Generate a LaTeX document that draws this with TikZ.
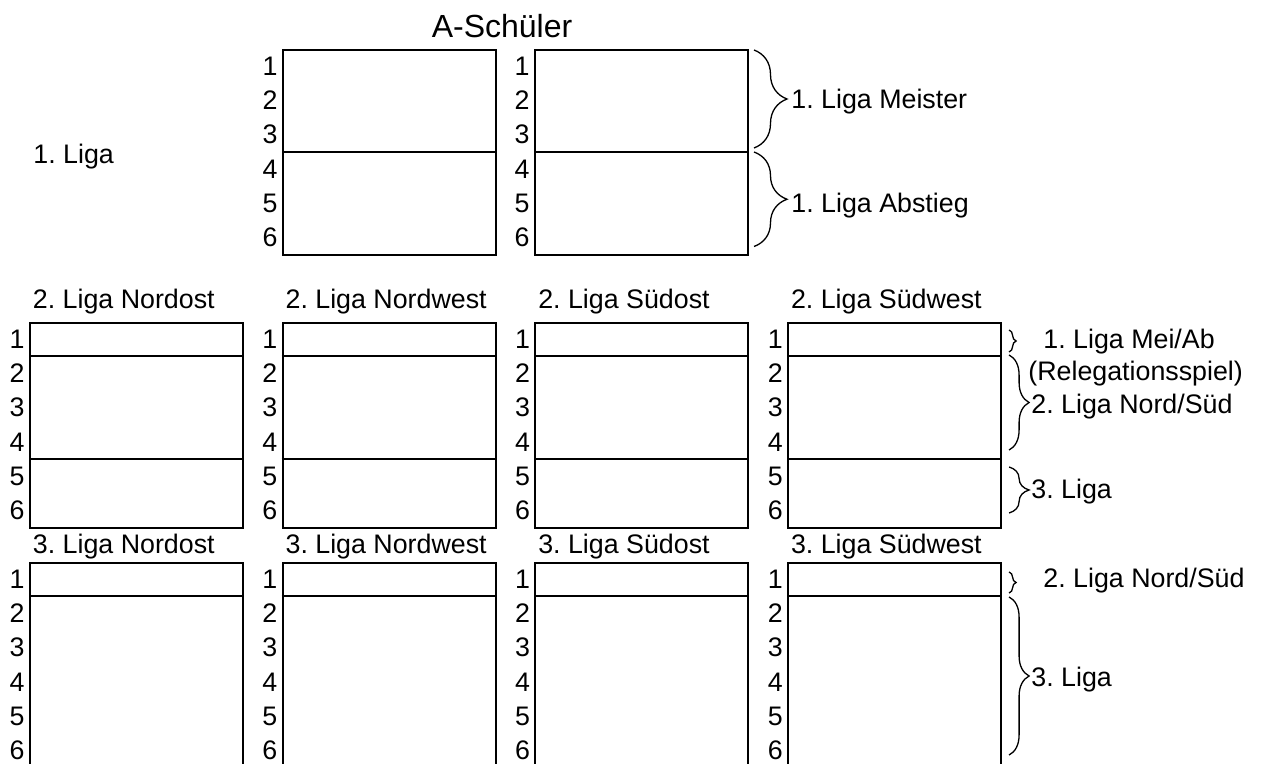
\documentclass[tikz,border=0pt]{standalone}
\usepackage{fontspec}
\setmainfont{Liberation Sans}
\frenchspacing
\usetikzlibrary{calc,decorations.pathreplacing}
\tikzset{
  liga sheet/.style={
    x=0.5pt, y=-0.5pt,
    font=\fontsize{13.4}{16}\selectfont
  },
  tabbox/.style={
    draw=black,
    line width=1pt,
    anchor=north west,
    minimum width=106.5pt,
    minimum height=102.75pt,
    inner sep=0pt
  },
  tabline/.style={draw=black, line width=1pt},
  rownum/.style={anchor=east, inner sep=0pt},
  tabtitle/.style={anchor=base west, inner sep=0pt},
  sidelabel/.style={anchor=base west, inner sep=0pt},
  headtitle/.style={anchor=base, inner sep=0pt, font=\fontsize{16}{19}\selectfont},
  ligabrace/.style={decorate, decoration={brace, amplitude=#1}, draw=black, line width=0.65pt}
}

\begin{document}
\begin{tikzpicture}[liga sheet]
\useasboundingbox (0,0) rectangle (1271,764);
\clip (0,0) rectangle (1271,764);

% 1. Liga
\node[headtitle] (head) at (502,38) {A-Schüler};
\node[sidelabel] (liga1) at (33,164) {1. Liga};
\node[tabbox] (ob1) at (282,49) {};
\node[tabbox] (ob2) at (534,49) {};
\foreach \b in {ob1,ob2} {
  \draw[tabline] ($(\b.north west)+(0,102.75)$) -- ($(\b.north east)+(0,102.75)$);
  \foreach \r in {1,...,6}
    \node[rownum] (\b-\r) at ($(\b.north west)+(-4,{(\r-0.5)*34.25})$) {\r};
}

% 2. und 3. Liga
\foreach \c/\reg [count=\i from 0] in {no/Nordost,nw/Nordwest,so/Südost,sw/Südwest} {
  \node[tabbox] (\c2) at ({29+252.7*\i},322) {};
  \node[tabtitle] (\c2-t) at ({32.5+252.7*\i},309) {2. Liga \reg};
  \draw[tabline] ($(\c2.north west)+(0,34.25)$) -- ($(\c2.north east)+(0,34.25)$);
  \draw[tabline] ($(\c2.north west)+(0,137)$) -- ($(\c2.north east)+(0,137)$);
  \foreach \r in {1,...,6}
    \node[rownum] (\c2-\r) at ($(\c2.north west)+(-4,{(\r-0.5)*34.25})$) {\r};
  \node[tabbox] (\c3) at ({29+252.7*\i},562) {};
  \node[tabtitle] (\c3-t) at ({32.5+252.7*\i},554) {3. Liga \reg};
  \draw[tabline] ($(\c3.north west)+(0,34.25)$) -- ($(\c3.north east)+(0,34.25)$);
  \foreach \r in {1,...,6}
    \node[rownum] (\c3-\r) at ($(\c3.north west)+(-4,{(\r-0.5)*34.25})$) {\r};
}

% Klammern oben
\coordinate (mtop) at ($(ob2.north east)+(5,1)$);
\coordinate (mbot) at ($(ob2.north east)+(5,99)$);
\coordinate (atop) at ($(ob2.north east)+(5,103)$);
\coordinate (abot) at ($(ob2.south east)+(5,-10)$);
\draw[ligabrace=16.5pt] (mtop) -- (mbot);
\draw[ligabrace=16.5pt] (atop) -- (abot);
\node[sidelabel] (meister) at (791,109) {1. Liga Meister};
\node[sidelabel] (abstieg) at (791,213) {1. Liga Abstieg};

% Klammern 2. Liga
\coordinate (rtop) at ($(sw2.north east)+(7,8)$);
\coordinate (rbot) at ($(sw2.north east)+(7,30)$);
\coordinate (ntop) at ($(sw2.north east)+(7,33)$);
\coordinate (nbot) at ($(sw2.north east)+(7,128)$);
\coordinate (dtop) at ($(sw2.north east)+(7,145)$);
\coordinate (dbot) at ($(sw2.north east)+(7,191)$);
\draw[ligabrace=3.5pt] (rtop) -- (rbot);
\draw[ligabrace=10pt] (ntop) -- (nbot);
\draw[ligabrace=10pt] (dtop) -- (dbot);
\node[sidelabel] (releg) at (1043,349) {1. Liga Mei/Ab};
\node[sidelabel] (relegb) at (1028,381) {(Relegationsspiel)};
\node[sidelabel] (nordsued) at (1031,414) {2. Liga Nord/Süd};
\node[sidelabel] (liga3) at (1031,499) {3. Liga};

% Klammern 3. Liga
\coordinate (utop) at ($(sw3.north east)+(7,10)$);
\coordinate (ubot) at ($(sw3.north east)+(7,31)$);
\coordinate (ltop) at ($(sw3.north east)+(7,35)$);
\coordinate (lbot) at ($(sw3.north east)+(7,193)$);
\draw[ligabrace=3.5pt] (utop) -- (ubot);
\draw[ligabrace=10pt] (ltop) -- (lbot);
\node[sidelabel] (aufstieg) at (1043,588) {2. Liga Nord/Süd};
\node[sidelabel] (liga3b) at (1031,687) {3. Liga};
\end{tikzpicture}
\end{document}
